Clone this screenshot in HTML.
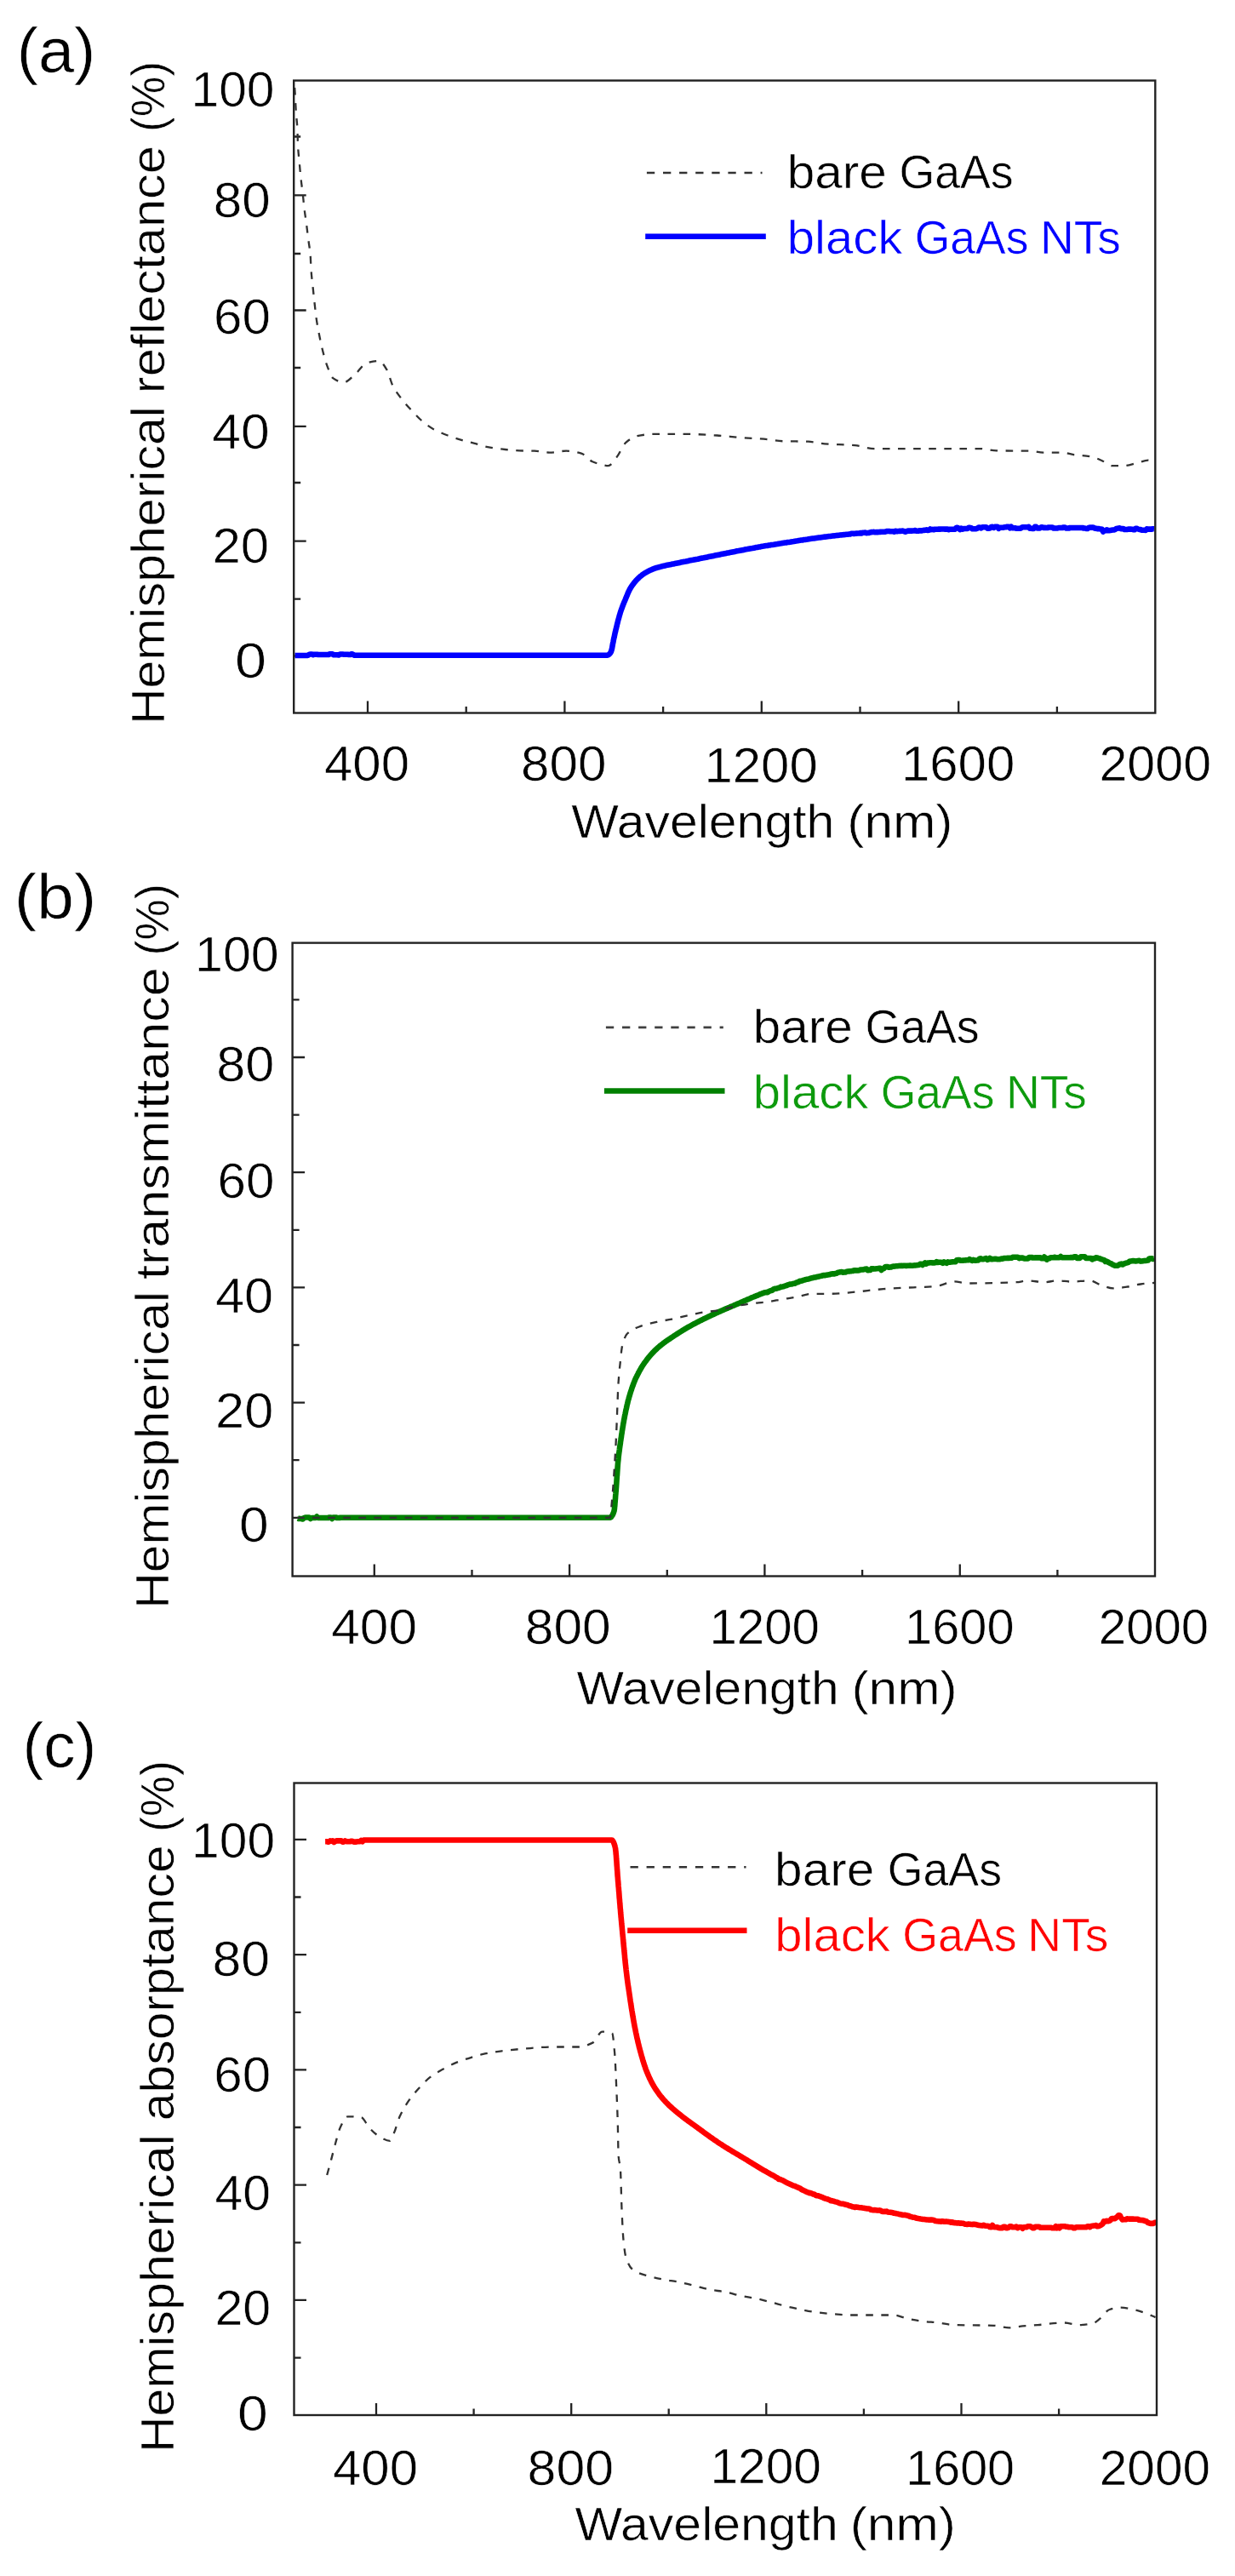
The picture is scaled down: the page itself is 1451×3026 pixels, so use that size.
<!DOCTYPE html><html><head><meta charset="utf-8"><title>Figure</title><style>html,body{margin:0;padding:0;background:#fff}svg{display:block}text{font-family:"Liberation Sans", sans-serif;}</style></head><body>
<svg width="1451" height="3026" viewBox="0 0 1451 3026">
<rect width="1451" height="3026" fill="#fff"/>
<defs><filter id="soft" x="0" y="0" width="100%" height="100%" filterUnits="userSpaceOnUse"><feGaussianBlur stdDeviation="0.6"/></filter></defs><g filter="url(#soft)">
<path d="M345.2,770.5h14.5 M345.2,703.6h8 M345.2,635.6h14.5 M345.2,567.0h8 M345.2,500.8h14.5 M345.2,432.0h8 M345.2,364.5h14.5 M345.2,298.0h8 M345.2,229.3h14.5 M345.2,160.5h8 M432.0,837.5v-14 M547.7,837.5v-7.5 M663.4,837.5v-14 M779.1,837.5v-7.5 M894.8,837.5v-14 M1010.5,837.5v-7.5 M1126.2,837.5v-14 M1241.9,837.5v-7.5" stroke="#222" stroke-width="2.3" fill="none"/>
<path d="M346.2,103.0 C346.3,105.0 346.5,106.9 346.6,109.1 C347.0,115.7 347.4,125.8 347.8,131.8 C348.3,139.8 348.9,141.2 349.4,151.3 C349.6,155.1 349.8,167.1 350.0,170.7 C350.6,181.0 351.1,183.6 351.7,190.0 C352.2,196.0 352.8,202.9 353.3,208.0 C354.2,216.3 355.0,221.2 355.9,229.0 C356.4,233.8 357.0,240.5 357.5,245.0 C358.3,251.4 359.0,255.6 359.8,261.4 C360.7,268.0 361.5,275.6 362.4,282.4 C363.2,288.4 363.9,290.9 364.7,300.0 C365.0,303.6 365.3,313.9 365.6,318.0 C366.3,327.1 366.9,331.1 367.6,337.5 C368.2,343.6 368.9,349.5 369.5,355.3 C370.2,361.4 370.8,368.2 371.5,373.0 C372.6,380.6 373.6,386.1 374.7,391.6 C376.0,398.3 377.3,404.4 378.6,409.7 C380.3,416.7 382.1,423.5 383.8,428.2 C386.4,435.1 388.9,442.6 391.5,444.4 C395.6,447.2 399.7,449.2 403.8,449.2 C408.4,449.2 412.9,443.3 417.5,439.5 C421.8,435.9 426.1,427.9 430.4,426.6 C435.3,425.1 440.1,424.0 445.0,424.0 C448.2,424.0 451.5,429.5 454.7,434.7 C456.9,438.2 459.0,448.2 461.2,452.5 C464.4,459.0 467.7,463.1 470.9,467.4 C475.2,473.1 479.5,477.8 483.8,482.4 C488.1,487.0 492.5,491.7 496.8,495.3 C501.1,498.9 505.5,502.0 509.8,504.4 C515.2,507.3 520.6,509.5 526.0,511.5 C531.9,513.7 537.9,515.7 543.8,517.4 C548.1,518.6 552.4,519.5 556.7,520.6 C562.1,522.0 567.5,524.1 572.9,525.1 C578.8,526.2 584.8,527.0 590.7,527.7 C597.2,528.4 603.7,529.2 610.2,529.4 C616.1,529.6 622.1,529.5 628.0,529.7 C633.9,529.9 639.9,531.6 645.8,531.6 C652.3,531.6 658.7,529.7 665.2,529.7 C671.1,529.7 677.1,531.0 683.0,532.6 C687.3,533.8 691.7,540.4 696.0,542.3 C700.0,544.0 704.1,545.1 708.1,546.0 C710.3,546.5 712.4,547.2 714.6,547.2 C717.8,547.2 721.1,541.4 724.3,537.4 C728.1,532.8 731.8,522.8 735.6,519.6 C739.9,515.9 744.3,513.1 748.6,512.2 C755.1,510.9 761.5,509.9 768.0,509.9 C781.0,509.9 793.9,509.9 806.9,509.9 C818.8,509.9 830.6,510.8 842.5,511.5 C852.2,512.1 862.0,513.4 871.7,514.1 C880.3,514.7 889.0,515.0 897.6,515.7 C905.1,516.3 912.7,518.1 920.2,518.3 C929.9,518.5 939.7,518.4 949.4,518.7 C955.9,518.9 962.3,520.8 968.8,521.3 C980.7,522.2 992.6,522.2 1004.5,523.2 C1012.0,523.8 1019.6,527.1 1027.1,527.1 C1038.3,527.1 1049.5,527.1 1060.7,527.1 C1073.8,527.1 1086.9,527.1 1100.0,527.1 C1117.1,527.1 1134.3,527.1 1151.4,527.1 C1157.9,527.1 1164.3,529.3 1170.8,529.4 C1183.8,529.6 1196.7,529.5 1209.7,529.7 C1215.1,529.8 1220.5,531.6 1225.9,531.6 C1233.5,531.6 1241.0,531.6 1248.6,531.6 C1252.9,531.6 1257.2,533.6 1261.5,534.2 C1268.0,535.1 1274.5,535.1 1281.0,536.2 C1285.3,536.9 1289.6,538.9 1293.9,540.7 C1298.2,542.5 1302.6,547.2 1306.9,547.2 C1311.2,547.2 1315.5,547.2 1319.8,547.2 C1325.2,547.2 1330.6,545.1 1336.0,543.9 C1340.3,542.9 1344.7,540.7 1349.0,540.7 C1351.3,540.7 1353.7,542.4 1356.0,543.3" fill="none" stroke="#303030" stroke-width="2.3" stroke-linejoin="round" stroke-linecap="butt" stroke-dasharray="8.6 9.5"/>
<path d="M346.5,770.0 L348.0,770.0 L349.5,770.0 L351.0,770.0 L352.5,770.0 L354.0,770.0 L355.5,770.0 L357.0,770.0 L358.5,770.0 L360.0,770.0 L361.5,770.0 L362.5,769.4 L363.5,768.7 L365.0,768.5 L366.5,768.5 L368.0,769.2 L369.5,768.7 L371.0,768.7 L372.5,768.7 L374.0,769.0 L375.5,769.0 L377.0,769.0 L378.5,769.0 L380.0,769.0 L381.5,769.0 L383.0,769.0 L384.5,769.0 L386.0,769.0 L387.5,768.2 L389.0,768.2 L390.5,768.2 L392.0,769.2 L393.5,769.2 L395.0,769.2 L396.5,769.2 L398.0,769.5 L399.5,768.5 L401.0,768.5 L402.5,768.5 L404.0,768.7 L405.5,768.7 L407.0,768.7 L408.5,768.7 L410.0,769.0 L411.5,769.0 L413.0,768.2 L414.5,768.7 L415.5,769.2 L416.5,769.7 L418.0,769.7 L419.5,769.7 L421.0,769.7 L422.5,769.7 L424.0,769.7 L425.5,769.7 L427.0,769.7 L428.5,769.7 L430.0,769.7 L431.5,769.7 L433.0,769.7 L434.5,769.7 L436.0,769.7 L437.5,769.7 L439.0,769.7 L440.5,769.7 L442.0,769.7 L443.5,769.7 L445.0,769.7 L446.5,769.7 L448.0,769.7 L449.5,769.7 L451.0,769.7 L452.5,769.7 L454.0,769.7 L455.5,769.7 L457.0,769.7 L458.5,769.7 L460.0,769.7 L461.5,769.7 L463.0,769.7 L464.5,769.7 L466.0,769.7 L467.5,769.7 L469.0,769.7 L470.5,769.7 L472.0,769.7 L473.5,769.7 L475.0,769.7 L476.5,769.7 L478.0,769.7 L479.5,769.7 L481.0,769.7 L482.5,769.7 L484.0,769.7 L485.5,769.7 L487.0,769.7 L488.5,769.7 L490.0,769.7 L491.5,769.7 L493.0,769.7 L494.5,769.7 L496.0,769.7 L497.5,769.7 L499.0,769.7 L500.5,769.7 L502.0,769.7 L503.5,769.7 L505.0,769.7 L506.5,769.7 L508.0,769.7 L509.5,769.7 L511.0,769.7 L512.5,769.7 L514.0,769.7 L515.5,769.7 L517.0,769.7 L518.5,769.7 L520.0,769.7 L521.5,769.7 L523.0,769.7 L524.5,769.7 L526.0,769.7 L527.5,769.7 L529.0,769.7 L530.5,769.7 L532.0,769.7 L533.5,769.7 L535.0,769.7 L536.5,769.7 L538.0,769.7 L539.5,769.7 L541.0,769.7 L542.5,769.7 L544.0,769.7 L545.5,769.7 L547.0,769.7 L548.5,769.7 L550.0,769.7 L551.5,769.7 L553.0,769.7 L554.5,769.7 L556.0,769.7 L557.5,769.7 L559.0,769.7 L560.5,769.7 L562.0,769.7 L563.5,769.7 L565.0,769.7 L566.5,769.7 L568.0,769.7 L569.5,769.7 L571.0,769.7 L572.5,769.7 L574.0,769.7 L575.5,769.7 L577.0,769.7 L578.5,769.7 L580.0,769.7 L581.5,769.7 L583.0,769.7 L584.5,769.7 L586.0,769.7 L587.5,769.7 L589.0,769.7 L590.5,769.7 L592.0,769.7 L593.5,769.7 L595.0,769.7 L596.5,769.7 L598.0,769.7 L599.5,769.7 L601.0,769.7 L602.5,769.7 L604.0,769.7 L605.5,769.7 L607.0,769.7 L608.5,769.7 L610.0,769.7 L611.5,769.7 L613.0,769.7 L614.5,769.7 L616.0,769.7 L617.5,769.7 L619.0,769.7 L620.5,769.7 L622.0,769.7 L623.5,769.7 L625.0,769.7 L626.5,769.7 L628.0,769.7 L629.5,769.7 L631.0,769.7 L632.5,769.7 L634.0,769.7 L635.5,769.7 L637.0,769.7 L638.5,769.7 L640.0,769.7 L641.5,769.7 L643.0,769.7 L644.5,769.7 L646.0,769.7 L647.5,769.7 L649.0,769.7 L650.5,769.7 L652.0,769.7 L653.5,769.7 L655.0,769.7 L656.5,769.7 L658.0,769.7 L659.5,769.7 L661.0,769.7 L662.5,769.7 L664.0,769.7 L665.5,769.7 L667.0,769.7 L668.5,769.7 L670.0,769.7 L671.5,769.7 L673.0,769.7 L674.5,769.7 L676.0,769.7 L677.5,769.7 L679.0,769.7 L680.5,769.7 L682.0,769.7 L683.5,769.7 L685.0,769.7 L686.5,769.7 L688.0,769.7 L689.5,769.7 L691.0,769.7 L692.5,769.7 L694.0,769.7 L695.5,769.7 L697.0,769.7 L698.5,769.7 L700.0,769.7 L701.4,769.7 L702.7,769.7 L704.1,769.7 L705.4,769.7 L706.8,769.7 L708.2,769.7 L709.5,769.7 L710.9,769.7 L712.2,769.7 L713.6,769.7 L714.6,769.4 L715.7,768.6 L716.8,767.3 L717.8,765.8 L718.1,765.1 L718.4,764.1 L718.8,762.8 L719.1,761.3 L719.4,759.7 L719.7,757.9 L720.0,756.1 L720.4,754.4 L720.7,752.7 L721.0,751.2 L721.3,749.7 L721.7,748.2 L722.0,746.7 L722.3,745.2 L722.6,743.7 L723.0,742.2 L723.3,740.8 L723.6,739.4 L724.0,738.0 L724.3,736.6 L724.7,735.1 L725.0,733.6 L725.4,732.1 L725.8,730.7 L726.1,729.2 L726.5,727.8 L726.9,726.4 L727.3,725.1 L727.6,723.7 L728.0,722.4 L728.4,721.2 L728.7,720.0 L729.1,718.8 L729.6,717.3 L730.1,715.9 L730.6,714.5 L731.1,713.2 L731.5,712.0 L732.0,710.7 L732.5,709.5 L733.0,708.3 L733.5,707.1 L734.0,705.9 L734.6,704.5 L735.2,703.0 L735.8,701.5 L736.4,700.1 L737.0,698.7 L737.5,697.3 L738.1,696.0 L738.7,694.7 L739.3,693.5 L739.9,692.3 L740.5,691.3 L741.4,689.8 L742.3,688.4 L743.2,687.1 L744.1,685.9 L745.0,684.7 L745.9,683.6 L746.8,682.5 L747.7,681.5 L748.6,680.6 L749.7,679.5 L750.8,678.5 L751.8,677.5 L752.9,676.6 L754.0,675.8 L755.1,674.9 L756.1,674.2 L757.2,673.5 L758.3,672.8 L759.6,672.1 L760.9,671.4 L762.2,670.7 L763.5,670.1 L764.8,669.5 L766.1,668.9 L767.4,668.4 L768.7,667.9 L770.0,667.4 L771.3,667.0 L772.7,666.6 L774.2,666.2 L775.6,665.8 L777.1,665.4 L778.5,665.1 L779.9,664.7 L781.4,664.4 L782.8,664.1 L784.2,663.8 L785.7,663.5 L787.1,663.2 L788.6,662.9 L790.0,662.6 L791.4,662.4 L792.9,662.1 L794.3,661.8 L795.8,661.5 L797.2,661.2 L798.6,660.9 L800.0,660.6 L801.4,660.3 L802.8,660.0 L804.2,659.7 L805.7,659.5 L807.1,659.2 L808.5,658.9 L809.9,658.6 L811.3,658.3 L812.7,658.0 L814.1,657.8 L815.5,657.5 L816.9,657.2 L818.3,656.9 L819.7,656.7 L821.1,656.4 L822.6,656.1 L824.0,655.8 L825.4,655.5 L826.8,655.3 L828.2,655.0 L829.6,654.7 L831.1,654.4 L832.5,654.1 L834.0,653.8 L835.5,653.5 L836.9,653.2 L838.4,652.9 L839.9,652.6 L841.3,652.3 L842.8,652.0 L844.3,651.7 L845.8,651.4 L847.2,651.1 L848.7,650.8 L850.2,650.5 L851.6,650.2 L853.1,649.9 L854.6,649.6 L856.0,649.4 L857.5,649.1 L859.0,648.8 L860.4,648.5 L861.9,648.2 L863.4,647.9 L864.8,647.6 L866.3,647.3 L867.8,647.1 L869.3,646.8 L870.7,646.5 L872.2,646.2 L873.7,645.9 L875.2,645.6 L876.6,645.3 L878.1,645.1 L879.6,644.8 L881.0,644.5 L882.5,644.2 L884.0,644.0 L885.5,643.7 L886.9,643.4 L888.4,643.1 L889.9,642.9 L891.4,642.6 L892.8,642.4 L894.3,642.1 L895.8,641.8 L897.2,641.6 L898.7,641.3 L900.2,641.1 L901.7,640.9 L903.1,640.6 L904.6,640.4 L906.1,640.1 L907.6,639.9 L909.0,639.7 L910.5,639.4 L912.0,639.2 L913.4,639.0 L914.9,638.7 L916.4,638.5 L917.9,638.3 L919.3,638.0 L920.8,637.8 L922.3,637.6 L923.8,637.4 L925.2,637.1 L926.7,636.9 L928.2,636.7 L929.6,636.4 L931.1,636.2 L932.6,636.0 L934.1,635.7 L935.5,635.5 L937.0,635.3 L938.5,635.0 L940.0,634.8 L941.4,634.6 L942.9,634.4 L944.4,634.1 L945.8,633.9 L947.3,633.7 L948.8,633.5 L950.3,633.2 L951.7,633.0 L953.2,632.8 L954.7,632.6 L956.2,632.4 L957.6,632.2 L959.1,632.0 L960.6,631.8 L962.0,631.6 L963.5,631.4 L965.0,631.2 L966.5,631.0 L967.9,630.8 L969.4,630.6 L970.9,630.5 L972.4,630.3 L973.8,630.1 L975.3,629.9 L976.8,629.7 L978.2,629.5 L979.7,629.4 L981.2,629.2 L982.7,629.0 L984.1,628.9 L985.6,628.7 L987.1,628.5 L988.6,628.4 L990.0,628.2 L991.5,628.1 L993.0,628.0 L994.4,627.8 L995.9,627.7 L997.4,627.5 L998.9,627.4 L1000.3,626.8 L1001.8,626.7 L1003.3,627.0 L1004.8,626.7 L1006.2,626.6 L1007.7,626.5 L1009.2,626.5 L1010.6,626.0 L1012.1,626.5 L1013.6,625.8 L1015.1,625.7 L1016.5,625.6 L1018.0,626.1 L1019.5,626.0 L1021.0,625.9 L1022.4,625.4 L1023.9,625.1 L1025.4,625.0 L1026.8,624.9 L1028.3,625.2 L1029.8,625.1 L1031.3,625.1 L1032.7,625.0 L1034.2,624.9 L1035.7,624.8 L1037.2,624.7 L1038.6,624.7 L1040.1,624.6 L1041.6,624.1 L1043.0,624.0 L1044.5,624.0 L1046.0,624.3 L1047.5,624.2 L1048.9,624.2 L1050.4,624.7 L1051.9,623.7 L1053.4,624.2 L1054.8,624.1 L1056.3,623.9 L1057.8,623.9 L1059.3,623.8 L1060.7,623.6 L1062.2,624.1 L1063.7,624.7 L1065.2,624.1 L1066.7,623.6 L1068.2,623.6 L1069.6,623.6 L1071.1,623.6 L1072.6,623.5 L1074.1,623.5 L1075.6,623.0 L1077.0,623.8 L1078.5,623.8 L1080.0,623.3 L1081.4,623.2 L1082.9,623.5 L1084.3,623.0 L1085.7,622.9 L1087.1,622.8 L1088.6,622.4 L1090.0,622.9 L1091.4,622.7 L1092.9,621.4 L1094.3,622.1 L1095.7,621.9 L1097.1,622.2 L1098.6,621.8 L1100.0,621.7 L1101.5,621.7 L1102.9,621.6 L1104.4,621.6 L1105.9,621.5 L1107.3,621.5 L1108.8,621.5 L1110.3,621.6 L1111.7,621.6 L1113.2,621.6 L1114.7,622.2 L1116.1,621.7 L1117.6,621.7 L1119.1,621.7 L1120.5,621.8 L1122.0,621.7 L1123.5,620.2 L1124.9,619.7 L1126.4,620.7 L1127.9,622.1 L1129.3,620.6 L1130.8,621.6 L1132.3,621.1 L1133.7,621.0 L1135.2,621.0 L1136.7,621.0 L1138.1,619.9 L1139.6,619.9 L1141.1,620.3 L1142.5,621.3 L1144.0,621.2 L1145.5,621.2 L1146.9,621.1 L1148.4,620.6 L1149.8,619.5 L1151.3,619.5 L1152.8,620.4 L1154.2,619.4 L1155.7,619.3 L1157.2,619.2 L1158.6,619.2 L1160.1,620.6 L1161.6,620.6 L1163.0,620.5 L1164.5,619.0 L1166.0,618.9 L1167.4,619.9 L1168.9,618.9 L1170.3,618.8 L1171.8,618.8 L1173.3,620.8 L1174.7,619.7 L1176.2,619.7 L1177.7,619.7 L1179.1,619.7 L1180.6,619.2 L1182.1,619.2 L1183.5,618.7 L1185.0,618.7 L1186.5,620.2 L1188.0,618.7 L1189.4,620.2 L1190.9,620.2 L1192.4,620.2 L1193.8,620.7 L1195.3,620.7 L1196.8,620.7 L1198.2,620.8 L1199.7,620.3 L1201.2,619.3 L1202.7,619.3 L1204.1,619.3 L1205.6,619.3 L1207.1,619.3 L1208.5,618.8 L1210.0,620.8 L1211.5,620.8 L1212.9,620.9 L1214.4,620.9 L1215.9,618.9 L1217.4,618.9 L1218.8,620.4 L1220.3,620.4 L1221.8,620.4 L1223.2,619.4 L1224.7,619.4 L1226.2,619.9 L1227.7,619.9 L1229.1,620.0 L1230.6,620.0 L1232.1,619.5 L1233.5,619.5 L1235.0,619.5 L1236.5,619.5 L1237.9,620.5 L1239.4,620.5 L1240.9,620.5 L1242.4,620.5 L1243.8,620.0 L1245.3,620.0 L1246.8,620.0 L1248.2,620.0 L1249.7,619.5 L1251.2,619.5 L1252.7,620.5 L1254.1,620.5 L1255.6,620.5 L1257.1,620.0 L1258.6,620.0 L1260.0,620.0 L1261.5,620.0 L1263.0,620.0 L1264.4,620.0 L1265.9,620.0 L1267.4,620.0 L1268.9,620.0 L1270.3,620.0 L1271.8,620.0 L1273.3,620.5 L1274.8,620.5 L1276.2,621.0 L1277.7,621.0 L1279.1,620.0 L1280.5,619.6 L1282.0,619.8 L1283.4,619.5 L1284.8,619.8 L1286.2,620.5 L1287.6,620.8 L1289.1,621.1 L1290.5,621.0 L1291.9,621.3 L1293.3,621.5 L1294.7,621.8 L1296.1,624.5 L1297.6,623.2 L1299.0,623.3 L1300.4,622.3 L1301.8,623.3 L1303.2,623.2 L1304.6,623.0 L1305.9,622.8 L1307.3,622.6 L1308.7,622.4 L1310.1,622.1 L1311.5,620.9 L1312.9,620.7 L1314.3,620.5 L1315.6,620.3 L1317.0,621.1 L1318.4,621.0 L1319.8,621.0 L1321.2,622.0 L1322.7,622.0 L1324.1,622.0 L1325.6,621.6 L1327.0,621.6 L1328.5,621.6 L1329.9,621.7 L1331.4,622.2 L1332.8,622.3 L1334.3,620.8 L1335.7,620.9 L1337.2,621.5 L1338.6,622.0 L1340.1,622.1 L1341.5,622.7 L1343.0,622.7 L1344.4,622.8 L1345.9,622.9 L1347.3,621.4 L1348.8,621.5 L1350.2,621.6 L1351.7,621.6 L1353.1,621.7 L1354.6,621.2 L1356.0,621.3" fill="none" stroke="#0000ff" stroke-width="6.6" stroke-linejoin="round" stroke-linecap="butt"/>
<rect x="345.2" y="94.6" width="1012.0999999999999" height="742.9" fill="none" stroke="#222" stroke-width="2.4"/>
<path d="M759.9,203H895.5" stroke="#303030" stroke-width="2.4" stroke-dasharray="9.3 9.8" fill="none"/>
<path d="M758.2,277.8H899.8" stroke="#0000ff" stroke-width="6.6" fill="none"/>
<path d="M343.6,1782.8h14.5 M343.6,1715.2h8 M343.6,1647.6h14.5 M343.6,1580.0h8 M343.6,1512.4h14.5 M343.6,1444.8h8 M343.6,1377.2h14.5 M343.6,1309.6h8 M343.6,1242.0h14.5 M343.6,1174.4h8 M439.8,1851.5v-14 M554.5,1851.5v-7.5 M669.1,1851.5v-14 M783.8,1851.5v-7.5 M898.4,1851.5v-14 M1013.1,1851.5v-7.5 M1127.8,1851.5v-14 M1242.4,1851.5v-7.5" stroke="#222" stroke-width="2.3" fill="none"/>
<path d="M349.8,1783.5 L351.3,1784.0 L352.8,1784.0 L354.3,1784.0 L355.8,1784.5 L357.3,1783.0 L358.7,1782.5 L360.2,1782.5 L361.7,1782.5 L363.2,1782.5 L364.7,1784.0 L366.2,1783.0 L367.7,1783.0 L369.2,1783.0 L370.7,1783.0 L372.2,1781.5 L373.7,1783.0 L375.1,1783.0 L376.6,1783.0 L378.1,1783.0 L379.6,1783.0 L381.1,1783.0 L382.6,1783.0 L384.1,1783.0 L385.6,1783.0 L387.1,1782.5 L388.6,1782.5 L390.1,1784.0 L391.5,1782.5 L393.0,1782.5 L394.5,1782.5 L396.0,1783.0 L397.5,1783.0 L399.0,1783.0 L400.0,1782.7 L401.0,1782.8 L402.5,1782.8 L404.0,1782.8 L405.5,1782.8 L407.0,1782.8 L408.5,1782.8 L410.0,1782.8 L411.5,1782.8 L413.0,1782.8 L414.5,1782.8 L416.0,1782.8 L417.5,1782.8 L419.0,1782.8 L420.5,1782.8 L422.0,1782.8 L423.5,1782.8 L425.0,1782.8 L426.5,1782.8 L428.0,1782.8 L429.5,1782.8 L431.0,1782.8 L432.5,1782.8 L434.0,1782.8 L435.5,1782.8 L437.0,1782.8 L438.5,1782.8 L440.0,1782.8 L441.5,1782.8 L443.0,1782.8 L444.5,1782.8 L446.0,1782.8 L447.5,1782.8 L449.0,1782.8 L450.5,1782.8 L452.0,1782.8 L453.5,1782.8 L455.0,1782.8 L456.5,1782.8 L458.0,1782.8 L459.5,1782.8 L461.0,1782.8 L462.5,1782.8 L464.0,1782.8 L465.5,1782.8 L467.0,1782.8 L468.5,1782.8 L470.0,1782.8 L471.5,1782.8 L473.0,1782.8 L474.5,1782.8 L476.0,1782.8 L477.5,1782.8 L479.0,1782.8 L480.5,1782.8 L482.0,1782.8 L483.5,1782.8 L485.0,1782.8 L486.5,1782.8 L488.0,1782.8 L489.5,1782.8 L491.0,1782.8 L492.5,1782.8 L494.0,1782.8 L495.5,1782.8 L497.0,1782.8 L498.5,1782.8 L500.0,1782.8 L501.5,1782.8 L503.0,1782.8 L504.5,1782.8 L506.0,1782.8 L507.5,1782.8 L509.0,1782.8 L510.5,1782.8 L512.0,1782.8 L513.5,1782.8 L515.0,1782.8 L516.5,1782.8 L518.0,1782.8 L519.5,1782.8 L521.0,1782.8 L522.5,1782.8 L524.0,1782.8 L525.5,1782.8 L527.0,1782.8 L528.5,1782.8 L530.0,1782.8 L531.5,1782.8 L533.0,1782.8 L534.5,1782.8 L536.0,1782.8 L537.5,1782.8 L539.0,1782.8 L540.5,1782.8 L542.0,1782.8 L543.5,1782.8 L545.0,1782.8 L546.5,1782.8 L548.0,1782.8 L549.5,1782.8 L551.0,1782.8 L552.5,1782.8 L554.0,1782.8 L555.5,1782.8 L557.0,1782.8 L558.5,1782.8 L560.0,1782.8 L561.5,1782.8 L563.0,1782.8 L564.5,1782.8 L566.0,1782.8 L567.5,1782.8 L569.0,1782.8 L570.5,1782.8 L572.0,1782.8 L573.5,1782.8 L575.0,1782.8 L576.5,1782.8 L578.0,1782.8 L579.5,1782.8 L581.0,1782.8 L582.5,1782.8 L584.0,1782.8 L585.5,1782.8 L587.0,1782.8 L588.5,1782.8 L590.0,1782.8 L591.5,1782.8 L593.0,1782.8 L594.5,1782.8 L596.0,1782.8 L597.5,1782.8 L599.0,1782.8 L600.5,1782.8 L602.0,1782.8 L603.5,1782.8 L605.0,1782.8 L606.5,1782.8 L608.0,1782.8 L609.5,1782.8 L611.0,1782.8 L612.5,1782.8 L614.0,1782.8 L615.5,1782.8 L617.0,1782.8 L618.5,1782.8 L620.0,1782.8 L621.5,1782.8 L623.0,1782.8 L624.5,1782.8 L626.0,1782.8 L627.5,1782.8 L629.0,1782.8 L630.5,1782.8 L632.0,1782.8 L633.5,1782.8 L635.0,1782.8 L636.5,1782.8 L638.0,1782.8 L639.5,1782.8 L641.0,1782.8 L642.5,1782.8 L644.0,1782.8 L645.5,1782.8 L647.0,1782.8 L648.5,1782.8 L650.0,1782.8 L651.5,1782.8 L653.0,1782.8 L654.4,1782.8 L655.9,1782.8 L657.4,1782.8 L658.9,1782.8 L660.3,1782.8 L661.8,1782.8 L663.3,1782.8 L664.8,1782.8 L666.2,1782.8 L667.7,1782.8 L669.2,1782.8 L670.7,1782.8 L672.1,1782.8 L673.6,1782.8 L675.1,1782.8 L676.6,1782.8 L678.0,1782.8 L679.5,1782.8 L681.0,1782.8 L682.5,1782.8 L683.9,1782.8 L685.4,1782.8 L686.9,1782.8 L688.4,1782.8 L689.8,1782.8 L691.3,1782.8 L692.8,1782.8 L694.3,1782.8 L695.7,1782.8 L697.2,1782.8 L698.7,1782.8 L700.2,1782.8 L701.6,1782.8 L703.1,1782.8 L704.6,1782.8 L706.1,1782.8 L707.5,1782.8 L709.0,1782.8 L710.5,1782.8 L712.0,1782.8 L713.4,1782.8 L714.9,1782.8 L716.4,1782.8 L717.2,1782.6 L718.0,1782.0 L718.8,1780.9 L719.7,1779.6 L720.5,1777.8 L721.3,1775.7 L721.4,1775.2 L721.6,1774.5 L721.7,1773.7 L721.9,1772.6 L722.0,1771.5 L722.1,1770.2 L722.3,1768.8 L722.4,1767.2 L722.5,1765.6 L722.7,1763.9 L722.8,1762.2 L723.0,1760.4 L723.1,1758.6 L723.2,1756.8 L723.4,1755.0 L723.5,1753.2 L723.7,1751.5 L723.8,1749.8 L723.9,1748.5 L724.0,1747.2 L724.1,1745.7 L724.2,1744.3 L724.3,1742.7 L724.4,1741.2 L724.5,1739.6 L724.6,1738.0 L724.7,1736.4 L724.8,1734.7 L725.0,1733.1 L725.1,1731.5 L725.2,1729.9 L725.3,1728.3 L725.4,1726.7 L725.5,1725.2 L725.6,1723.8 L725.7,1722.3 L725.8,1721.0 L725.9,1719.7 L726.0,1718.5 L726.1,1717.4 L726.3,1715.6 L726.5,1713.8 L726.6,1712.1 L726.8,1710.5 L727.0,1708.9 L727.2,1707.4 L727.4,1705.9 L727.6,1704.5 L727.8,1703.1 L727.9,1701.7 L728.1,1700.4 L728.3,1699.1 L728.5,1697.8 L728.7,1696.5 L728.9,1695.3 L729.0,1694.0 L729.2,1692.8 L729.4,1691.5 L729.6,1689.9 L729.9,1688.3 L730.1,1686.7 L730.3,1685.1 L730.6,1683.6 L730.8,1682.1 L731.0,1680.6 L731.3,1679.1 L731.5,1677.6 L731.7,1676.2 L732.0,1674.8 L732.2,1673.4 L732.4,1672.0 L732.7,1670.7 L732.9,1669.4 L733.1,1668.1 L733.4,1666.8 L733.6,1665.6 L733.9,1663.9 L734.2,1662.3 L734.6,1660.7 L734.9,1659.1 L735.2,1657.5 L735.5,1656.0 L735.9,1654.5 L736.2,1653.0 L736.5,1651.6 L736.8,1650.1 L737.2,1648.8 L737.5,1647.4 L737.8,1646.1 L738.1,1644.9 L738.5,1643.6 L738.8,1642.4 L739.1,1641.3 L739.6,1639.7 L740.1,1638.1 L740.5,1636.5 L741.0,1635.0 L741.5,1633.5 L742.0,1632.1 L742.4,1630.7 L742.9,1629.3 L743.4,1628.0 L743.9,1626.7 L744.3,1625.4 L744.8,1624.2 L745.3,1623.0 L745.8,1621.8 L746.2,1620.7 L746.7,1619.6 L747.2,1618.6 L748.0,1617.0 L748.7,1615.5 L749.5,1614.0 L750.2,1612.5 L751.0,1611.1 L751.7,1609.7 L752.5,1608.4 L753.2,1607.1 L754.0,1605.9 L754.7,1604.7 L755.5,1603.5 L756.2,1602.4 L757.0,1601.3 L757.7,1600.2 L758.5,1599.2 L759.5,1597.9 L760.4,1596.6 L761.4,1595.4 L762.4,1594.2 L763.4,1593.0 L764.3,1591.9 L765.3,1590.8 L766.3,1589.7 L767.3,1588.7 L768.2,1587.7 L769.2,1586.7 L770.2,1585.7 L771.2,1584.8 L772.1,1583.9 L773.1,1583.0 L774.3,1582.0 L775.4,1581.0 L776.6,1580.1 L777.7,1579.2 L778.9,1578.3 L780.0,1577.4 L781.2,1576.6 L782.4,1575.7 L783.5,1574.9 L784.7,1574.1 L785.8,1573.3 L787.0,1572.6 L788.1,1571.8 L789.3,1571.0 L790.6,1570.2 L791.8,1569.3 L793.1,1568.5 L794.3,1567.7 L795.6,1566.9 L796.8,1566.1 L798.1,1565.3 L799.3,1564.5 L800.6,1563.7 L801.9,1562.9 L803.1,1562.2 L804.4,1561.4 L805.6,1560.7 L806.9,1559.9 L808.1,1559.2 L809.4,1558.5 L810.6,1557.8 L811.9,1557.1 L813.2,1556.4 L814.5,1555.7 L815.8,1555.0 L817.1,1554.3 L818.4,1553.6 L819.7,1552.9 L821.0,1552.3 L822.3,1551.6 L823.6,1551.0 L824.9,1550.3 L826.2,1549.7 L827.5,1549.0 L828.8,1548.4 L830.1,1547.8 L831.4,1547.2 L832.7,1546.5 L834.0,1545.9 L835.3,1545.3 L836.6,1544.7 L837.9,1544.1 L839.3,1543.5 L840.6,1542.8 L842.0,1542.2 L843.4,1541.6 L844.7,1541.0 L846.1,1540.4 L847.4,1539.8 L848.8,1539.2 L850.2,1538.6 L851.5,1538.0 L852.9,1537.4 L854.3,1536.9 L855.6,1536.3 L857.0,1535.7 L858.3,1535.1 L859.7,1534.5 L861.1,1534.0 L862.4,1533.4 L863.8,1532.8 L865.1,1532.2 L866.5,1531.6 L867.8,1531.1 L869.2,1530.5 L870.5,1529.9 L871.9,1529.3 L873.2,1528.7 L874.6,1528.1 L876.0,1527.5 L877.3,1526.9 L878.6,1526.3 L880.0,1525.8 L881.4,1525.2 L882.7,1524.6 L884.0,1524.0 L885.4,1523.5 L886.8,1522.9 L888.1,1522.4 L889.5,1521.8 L890.8,1521.3 L892.2,1520.7 L893.5,1520.2 L894.9,1519.7 L896.2,1519.2 L897.6,1518.7 L899.0,1518.2 L900.4,1518.1 L901.8,1518.2 L903.2,1517.1 L904.6,1516.4 L906.0,1516.1 L907.4,1515.6 L908.8,1514.3 L910.2,1513.9 L911.6,1513.8 L913.1,1513.3 L914.5,1512.9 L915.9,1512.6 L917.3,1511.6 L918.7,1511.7 L920.1,1511.3 L921.5,1510.8 L922.9,1510.4 L924.3,1510.0 L925.7,1509.3 L927.1,1508.9 L928.5,1508.5 L929.9,1508.5 L931.3,1508.1 L932.7,1507.7 L934.1,1507.6 L935.5,1506.6 L937.0,1506.2 L938.4,1505.8 L939.8,1504.8 L941.2,1504.8 L942.6,1504.4 L944.0,1503.8 L945.4,1503.4 L946.8,1503.1 L948.2,1502.7 L949.6,1502.5 L951.0,1502.1 L952.4,1501.6 L953.9,1501.2 L955.3,1500.9 L956.7,1500.6 L958.1,1500.4 L959.5,1500.1 L960.9,1499.8 L962.4,1499.5 L963.8,1499.0 L965.3,1498.7 L966.8,1498.3 L968.3,1498.0 L969.7,1498.1 L971.2,1497.8 L972.7,1497.5 L974.2,1497.3 L975.6,1496.8 L977.1,1496.5 L978.6,1496.2 L980.0,1496.4 L981.5,1496.1 L983.0,1495.8 L984.5,1494.8 L985.9,1494.6 L987.4,1494.3 L988.9,1494.1 L990.4,1494.7 L991.8,1494.5 L993.3,1494.4 L994.8,1493.7 L996.2,1493.5 L997.7,1493.4 L999.1,1493.2 L1000.6,1493.1 L1002.1,1492.9 L1003.5,1492.3 L1005.0,1492.2 L1006.4,1492.5 L1007.9,1492.4 L1009.4,1492.2 L1010.8,1491.6 L1012.3,1491.5 L1013.7,1491.4 L1015.2,1491.2 L1016.7,1490.7 L1018.1,1490.5 L1019.6,1492.2 L1021.0,1492.0 L1022.5,1491.9 L1023.9,1490.4 L1025.4,1490.3 L1026.8,1490.6 L1028.3,1490.4 L1029.7,1490.2 L1031.2,1490.1 L1032.6,1489.9 L1034.1,1489.8 L1035.5,1491.9 L1037.0,1490.4 L1038.4,1490.2 L1039.9,1488.3 L1041.3,1488.1 L1042.8,1488.0 L1044.2,1488.7 L1045.7,1488.6 L1047.1,1488.4 L1048.6,1487.8 L1050.0,1487.6 L1051.5,1487.5 L1053.0,1487.3 L1054.4,1487.2 L1055.9,1487.0 L1057.4,1486.9 L1058.9,1486.7 L1060.3,1487.0 L1061.8,1486.8 L1063.3,1486.7 L1064.8,1487.0 L1066.2,1486.8 L1067.7,1486.7 L1069.2,1486.5 L1070.7,1486.8 L1072.1,1486.7 L1073.6,1486.5 L1075.1,1486.4 L1076.6,1486.2 L1078.0,1486.1 L1079.5,1485.9 L1081.0,1484.9 L1082.5,1484.8 L1084.0,1486.0 L1085.5,1484.5 L1086.9,1483.4 L1088.4,1484.7 L1089.9,1483.6 L1091.4,1483.5 L1092.9,1483.3 L1094.4,1483.2 L1095.9,1483.5 L1097.4,1483.4 L1098.8,1483.2 L1100.3,1482.2 L1101.8,1483.0 L1103.3,1482.8 L1104.8,1482.7 L1106.3,1483.0 L1107.8,1483.8 L1109.2,1482.3 L1110.7,1483.1 L1112.2,1483.8 L1113.7,1482.4 L1115.2,1482.7 L1116.7,1482.6 L1118.2,1482.4 L1119.6,1482.3 L1121.1,1482.2 L1122.6,1482.1 L1124.1,1480.2 L1125.6,1480.1 L1127.1,1480.0 L1128.6,1480.8 L1130.1,1480.7 L1131.5,1480.6 L1133.0,1480.5 L1134.5,1480.4 L1136.0,1480.3 L1137.5,1480.2 L1139.0,1479.2 L1140.5,1480.0 L1142.0,1480.8 L1143.5,1479.9 L1145.0,1480.7 L1146.5,1480.6 L1148.0,1480.5 L1149.5,1480.4 L1150.9,1478.5 L1152.4,1478.4 L1153.9,1479.3 L1155.4,1479.2 L1156.9,1478.6 L1158.4,1478.1 L1159.9,1479.8 L1161.4,1479.3 L1162.9,1477.9 L1164.4,1479.2 L1165.9,1479.1 L1167.4,1479.0 L1168.9,1478.9 L1170.4,1478.9 L1171.9,1479.3 L1173.4,1479.2 L1174.9,1479.1 L1176.4,1478.6 L1177.9,1478.6 L1179.4,1478.1 L1180.8,1478.0 L1182.3,1478.0 L1183.8,1477.9 L1185.3,1477.9 L1186.8,1477.8 L1188.3,1477.8 L1189.8,1476.9 L1191.3,1476.8 L1192.8,1476.8 L1194.3,1476.8 L1195.8,1476.8 L1197.3,1478.1 L1198.7,1477.6 L1200.2,1477.6 L1201.7,1477.6 L1203.2,1478.5 L1204.7,1478.5 L1206.2,1478.5 L1207.6,1478.4 L1209.1,1477.1 L1210.6,1477.1 L1212.1,1477.0 L1213.6,1477.5 L1215.1,1477.5 L1216.5,1477.4 L1218.0,1477.4 L1219.5,1477.4 L1221.0,1477.4 L1222.5,1477.4 L1224.0,1478.3 L1225.4,1478.3 L1226.9,1476.5 L1228.4,1477.8 L1229.9,1479.6 L1231.4,1478.2 L1232.9,1478.2 L1234.3,1477.3 L1235.8,1477.3 L1237.3,1477.3 L1238.8,1476.8 L1240.3,1477.2 L1241.8,1477.2 L1243.2,1477.2 L1244.7,1477.2 L1246.2,1475.9 L1247.7,1477.2 L1249.2,1477.2 L1250.7,1477.2 L1252.1,1477.2 L1253.6,1477.2 L1255.1,1477.2 L1256.6,1477.2 L1258.1,1477.1 L1259.6,1477.1 L1261.0,1477.1 L1262.5,1476.2 L1264.0,1476.2 L1265.5,1478.0 L1267.0,1478.0 L1268.5,1478.0 L1269.9,1476.2 L1271.4,1476.2 L1272.9,1476.2 L1274.4,1476.2 L1275.9,1478.0 L1277.4,1478.0 L1278.8,1478.0 L1280.3,1478.0 L1281.8,1478.0 L1283.2,1479.4 L1284.7,1478.2 L1286.1,1478.4 L1287.5,1477.3 L1289.0,1477.5 L1290.4,1477.9 L1291.8,1478.2 L1293.3,1479.0 L1294.7,1479.4 L1296.0,1479.8 L1297.4,1480.4 L1298.8,1482.0 L1300.1,1481.5 L1301.5,1482.3 L1302.8,1483.2 L1304.2,1484.0 L1305.5,1484.3 L1306.9,1485.4 L1308.2,1485.9 L1309.6,1486.7 L1310.9,1486.8 L1312.2,1486.7 L1313.6,1486.6 L1315.0,1485.4 L1316.3,1485.0 L1317.7,1484.6 L1319.0,1485.5 L1320.3,1484.6 L1321.7,1484.1 L1323.0,1483.7 L1324.4,1483.3 L1325.8,1482.9 L1327.1,1481.7 L1328.5,1481.4 L1330.0,1481.2 L1331.4,1481.0 L1332.9,1481.2 L1334.3,1481.4 L1335.8,1481.2 L1337.2,1481.0 L1338.7,1480.8 L1340.1,1481.6 L1341.5,1481.4 L1343.0,1481.2 L1344.4,1481.0 L1345.9,1480.9 L1347.3,1480.7 L1348.8,1480.5 L1350.2,1478.5 L1351.7,1478.4 L1353.1,1478.2 L1354.6,1478.9 L1356.0,1478.3" fill="none" stroke="#008000" stroke-width="6.6" stroke-linejoin="round" stroke-linecap="butt"/>
<path d="M349.0,1782.8 C449.3,1782.8 549.7,1782.8 650.0,1782.8 C672.1,1782.8 694.3,1782.8 716.4,1782.8 C717.5,1782.8 718.5,1767.6 719.6,1756.3 C720.4,1748.2 721.1,1735.8 721.9,1723.9 C722.5,1714.1 723.2,1704.5 723.8,1691.5 C724.2,1682.6 724.7,1669.9 725.1,1659.1 C725.5,1648.3 726.0,1633.7 726.4,1626.7 C727.2,1614.4 727.9,1608.2 728.7,1600.8 C729.5,1593.4 730.2,1584.6 731.0,1581.4 C732.9,1573.3 734.9,1568.8 736.8,1566.8 C741.9,1561.6 746.9,1560.0 752.0,1558.1 C758.5,1555.7 765.0,1554.3 771.5,1552.9 C777.4,1551.6 783.4,1550.8 789.3,1549.6 C795.8,1548.3 802.2,1546.5 808.7,1545.1 C814.6,1543.8 820.6,1542.4 826.5,1541.5 C832.4,1540.6 838.4,1540.3 844.3,1539.3 C850.8,1538.2 857.3,1535.7 863.8,1534.4 C870.3,1533.1 876.7,1532.0 883.2,1531.2 C888.6,1530.5 894.0,1530.3 899.4,1529.6 C905.9,1528.8 912.3,1527.4 918.8,1526.3 C924.2,1525.4 929.6,1524.7 935.0,1523.7 C941.5,1522.5 948.0,1519.8 954.5,1519.8 C961.0,1519.8 967.4,1519.8 973.9,1519.8 C985.8,1519.8 997.6,1518.3 1009.5,1517.2 C1016.0,1516.6 1022.5,1515.6 1029.0,1515.0 C1035.5,1514.4 1042.1,1513.8 1048.6,1513.4 C1065.9,1512.3 1083.1,1512.4 1100.4,1510.8 C1107.4,1510.1 1114.5,1505.3 1121.5,1505.3 C1126.3,1505.3 1131.2,1507.5 1136.0,1507.5 C1155.4,1507.5 1174.9,1507.1 1194.3,1506.2 C1198.6,1506.0 1203.0,1504.3 1207.3,1504.3 C1213.8,1504.3 1220.2,1506.2 1226.7,1506.2 C1232.1,1506.2 1237.5,1504.3 1242.9,1504.3 C1248.3,1504.3 1253.7,1505.6 1259.1,1505.6 C1266.1,1505.6 1273.2,1504.3 1280.2,1504.3 C1285.0,1504.3 1289.9,1508.6 1294.7,1510.1 C1299.0,1511.4 1303.4,1513.4 1307.7,1513.4 C1313.1,1513.4 1318.5,1512.4 1323.9,1511.7 C1329.3,1511.0 1334.7,1509.2 1340.1,1508.5 C1345.4,1507.8 1350.7,1507.4 1356.0,1506.9" fill="none" stroke="#303030" stroke-width="2.3" stroke-linejoin="round" stroke-linecap="butt" stroke-dasharray="8.6 9.5"/>
<rect x="343.6" y="1107.6" width="1013.4" height="743.9000000000001" fill="none" stroke="#222" stroke-width="2.4"/>
<path d="M711.9,1206.9H849.8" stroke="#404040" stroke-width="2.6" stroke-dasharray="9.3 9.8" fill="none"/>
<path d="M709.9,1281.5H851.5" stroke="#008000" stroke-width="6.6" fill="none"/>
<path d="M345.5,2769.6h8 M345.5,2701.9h14.5 M345.5,2634.3h8 M345.5,2566.7h14.5 M345.5,2499.0h8 M345.5,2431.4h14.5 M345.5,2363.8h8 M345.5,2296.2h14.5 M345.5,2228.5h8 M345.5,2160.9h14.5 M442.0,2837v-14 M556.6,2837v-7.5 M671.2,2837v-14 M785.7,2837v-7.5 M900.3,2837v-14 M1014.9,2837v-7.5 M1129.5,2837v-14 M1244.1,2837v-7.5" stroke="#222" stroke-width="2.3" fill="none"/>
<path d="M384.2,2555.0 C385.8,2549.1 387.4,2543.4 389.0,2537.4 C390.7,2531.1 392.3,2524.1 394.0,2518.2 C395.9,2511.3 397.9,2503.0 399.8,2499.0 C402.7,2493.0 405.6,2486.3 408.5,2486.3 C413.7,2486.3 419.0,2486.5 424.2,2487.1 C427.4,2487.4 430.7,2496.1 433.9,2499.5 C437.1,2502.9 440.4,2506.3 443.6,2508.3 C448.5,2511.3 453.3,2514.8 458.2,2514.8 C459.8,2514.8 461.5,2508.9 463.1,2505.1 C465.3,2500.1 467.4,2491.1 469.6,2486.3 C473.0,2478.7 476.5,2473.2 479.9,2468.2 C484.0,2462.2 488.1,2457.6 492.2,2453.1 C496.5,2448.3 500.9,2443.4 505.2,2440.1 C510.1,2436.3 514.9,2433.7 519.8,2431.0 C525.2,2428.0 530.6,2425.1 536.0,2422.9 C541.9,2420.5 547.9,2418.6 553.8,2416.8 C558.1,2415.5 562.4,2414.1 566.7,2413.2 C574.3,2411.6 581.8,2410.3 589.4,2409.3 C598.0,2408.2 606.7,2407.4 615.3,2406.7 C626.1,2405.8 636.9,2404.5 647.7,2404.5 C658.5,2404.5 669.3,2404.5 680.1,2404.5 C685.5,2404.5 690.9,2402.3 696.3,2399.6 C700.1,2397.7 703.8,2386.6 707.6,2386.6 C711.5,2386.6 715.3,2386.9 719.2,2388.3 C720.2,2388.6 721.1,2399.9 722.1,2410.9 C722.9,2419.6 723.6,2438.3 724.4,2456.3 C724.9,2468.0 725.4,2480.1 725.9,2498.4 C726.1,2506.9 726.4,2528.9 726.6,2532.0 C727.4,2542.3 728.1,2538.5 728.9,2547.2 C729.4,2553.2 730.0,2583.6 730.5,2595.7 C731.2,2610.8 731.8,2624.5 732.5,2631.4 C733.5,2641.4 734.4,2648.6 735.4,2651.6 C738.2,2660.3 740.9,2664.4 743.7,2666.4 C749.6,2670.6 755.6,2671.7 761.5,2673.5 C767.5,2675.3 773.4,2676.6 779.4,2677.7 C785.3,2678.8 791.3,2679.5 797.2,2680.6 C803.1,2681.7 809.1,2683.4 815.0,2684.8 C821.5,2686.4 827.9,2688.5 834.4,2689.7 C840.3,2690.8 846.3,2691.2 852.2,2692.3 C858.1,2693.4 864.1,2695.6 870.0,2696.8 C876.0,2698.0 881.9,2698.8 887.9,2700.0 C893.8,2701.2 899.8,2702.8 905.7,2704.3 C911.6,2705.8 917.6,2707.7 923.5,2709.1 C929.4,2710.5 935.4,2711.8 941.3,2713.0 C947.2,2714.2 953.2,2715.4 959.1,2716.2 C965.6,2717.1 972.0,2717.7 978.5,2718.2 C985.0,2718.7 991.5,2719.5 998.0,2719.5 C1015.3,2719.5 1032.5,2719.5 1049.8,2719.5 C1055.4,2719.5 1061.0,2722.6 1066.6,2723.7 C1072.8,2725.0 1079.0,2726.2 1085.2,2726.9 C1091.1,2727.6 1096.9,2727.8 1102.8,2728.5 C1108.7,2729.2 1114.7,2730.9 1120.6,2731.1 C1136.3,2731.6 1151.9,2731.3 1167.6,2731.8 C1173.5,2732.0 1179.5,2734.4 1185.4,2734.4 C1190.8,2734.4 1196.2,2732.9 1201.6,2732.4 C1207.5,2731.9 1213.5,2731.6 1219.4,2731.1 C1229.7,2730.3 1239.9,2728.5 1250.2,2728.5 C1256.1,2728.5 1262.1,2731.1 1268.0,2731.1 C1273.4,2731.1 1278.8,2730.4 1284.2,2729.2 C1286.9,2728.6 1289.6,2725.8 1292.3,2723.7 C1296.1,2720.7 1299.8,2714.1 1303.6,2713.0 C1307.9,2711.7 1312.3,2710.7 1316.6,2710.7 C1322.0,2710.7 1327.4,2712.2 1332.8,2713.3 C1337.1,2714.2 1341.4,2715.7 1345.7,2717.2 C1349.6,2718.6 1353.6,2720.5 1357.5,2722.1" fill="none" stroke="#303030" stroke-width="2.3" stroke-linejoin="round" stroke-linecap="butt" stroke-dasharray="8.6 9.5"/>
<path d="M382.1,2163.2 L383.6,2163.2 L385.0,2163.6 L386.5,2163.6 L387.9,2162.4 L389.4,2162.8 L390.8,2162.4 L392.3,2164.0 L393.8,2163.2 L395.2,2162.4 L396.7,2162.4 L398.1,2162.4 L399.6,2162.4 L401.0,2162.4 L402.5,2163.6 L404.0,2163.6 L405.4,2162.4 L406.9,2163.2 L408.3,2163.2 L409.8,2163.2 L411.2,2163.2 L412.7,2162.8 L414.1,2162.8 L415.6,2163.6 L417.1,2163.6 L418.5,2163.6 L420.0,2163.2 L421.4,2163.2 L422.9,2163.2 L424.3,2162.0 L425.8,2163.2 L426.6,2162.3 L427.4,2161.5 L428.9,2161.5 L430.4,2161.5 L431.9,2161.5 L433.4,2161.5 L434.9,2161.5 L436.4,2161.5 L437.9,2161.5 L439.4,2161.5 L440.9,2161.5 L442.4,2161.5 L443.9,2161.5 L445.4,2161.5 L446.9,2161.5 L448.4,2161.5 L449.9,2161.5 L451.4,2161.5 L452.9,2161.5 L454.4,2161.5 L455.9,2161.5 L457.4,2161.5 L458.9,2161.5 L460.4,2161.5 L461.8,2161.5 L463.3,2161.5 L464.8,2161.5 L466.3,2161.5 L467.8,2161.5 L469.3,2161.5 L470.8,2161.5 L472.3,2161.5 L473.8,2161.5 L475.3,2161.5 L476.8,2161.5 L478.3,2161.5 L479.8,2161.5 L481.3,2161.5 L482.8,2161.5 L484.3,2161.5 L485.8,2161.5 L487.3,2161.5 L488.8,2161.5 L490.3,2161.5 L491.8,2161.5 L493.3,2161.5 L494.8,2161.5 L496.3,2161.5 L497.8,2161.5 L499.3,2161.5 L500.8,2161.5 L502.3,2161.5 L503.8,2161.5 L505.3,2161.5 L506.8,2161.5 L508.3,2161.5 L509.8,2161.5 L511.3,2161.5 L512.8,2161.5 L514.3,2161.5 L515.8,2161.5 L517.3,2161.5 L518.8,2161.5 L520.3,2161.5 L521.8,2161.5 L523.3,2161.5 L524.8,2161.5 L526.3,2161.5 L527.8,2161.5 L529.3,2161.5 L530.7,2161.5 L532.2,2161.5 L533.7,2161.5 L535.2,2161.5 L536.7,2161.5 L538.2,2161.5 L539.7,2161.5 L541.2,2161.5 L542.7,2161.5 L544.2,2161.5 L545.7,2161.5 L547.2,2161.5 L548.7,2161.5 L550.2,2161.5 L551.7,2161.5 L553.2,2161.5 L554.7,2161.5 L556.2,2161.5 L557.7,2161.5 L559.2,2161.5 L560.7,2161.5 L562.2,2161.5 L563.7,2161.5 L565.2,2161.5 L566.7,2161.5 L568.2,2161.5 L569.7,2161.5 L571.2,2161.5 L572.7,2161.5 L574.2,2161.5 L575.7,2161.5 L577.2,2161.5 L578.7,2161.5 L580.2,2161.5 L581.7,2161.5 L583.2,2161.5 L584.7,2161.5 L586.2,2161.5 L587.7,2161.5 L589.2,2161.5 L590.7,2161.5 L592.2,2161.5 L593.7,2161.5 L595.2,2161.5 L596.7,2161.5 L598.1,2161.5 L599.6,2161.5 L601.1,2161.5 L602.6,2161.5 L604.1,2161.5 L605.6,2161.5 L607.1,2161.5 L608.6,2161.5 L610.1,2161.5 L611.6,2161.5 L613.1,2161.5 L614.6,2161.5 L616.1,2161.5 L617.6,2161.5 L619.1,2161.5 L620.6,2161.5 L622.1,2161.5 L623.6,2161.5 L625.1,2161.5 L626.6,2161.5 L628.1,2161.5 L629.6,2161.5 L631.1,2161.5 L632.6,2161.5 L634.1,2161.5 L635.6,2161.5 L637.1,2161.5 L638.6,2161.5 L640.1,2161.5 L641.6,2161.5 L643.1,2161.5 L644.6,2161.5 L646.1,2161.5 L647.6,2161.5 L649.1,2161.5 L650.6,2161.5 L652.1,2161.5 L653.6,2161.5 L655.1,2161.5 L656.6,2161.5 L658.1,2161.5 L659.6,2161.5 L661.1,2161.5 L662.6,2161.5 L664.1,2161.5 L665.6,2161.5 L667.0,2161.5 L668.5,2161.5 L670.0,2161.5 L671.5,2161.5 L673.0,2161.5 L674.5,2161.5 L676.0,2161.5 L677.5,2161.5 L679.0,2161.5 L680.5,2161.5 L682.0,2161.5 L683.5,2161.5 L685.0,2161.5 L686.5,2161.5 L688.0,2161.5 L689.5,2161.5 L691.0,2161.5 L692.5,2161.5 L694.0,2161.5 L695.5,2161.5 L697.0,2161.5 L698.5,2161.5 L700.0,2161.5 L701.4,2161.5 L702.9,2161.5 L704.3,2161.5 L705.8,2161.5 L707.2,2161.5 L708.7,2161.5 L710.1,2161.5 L711.6,2161.5 L713.0,2161.5 L714.5,2161.5 L715.9,2161.5 L717.4,2161.5 L718.8,2161.5 L719.4,2161.8 L720.1,2162.6 L720.8,2163.8 L721.4,2165.4 L722.1,2167.4 L722.7,2169.6 L722.8,2170.1 L723.0,2170.8 L723.1,2171.7 L723.2,2172.6 L723.3,2173.7 L723.5,2174.9 L723.6,2176.3 L723.7,2177.7 L723.9,2179.2 L724.0,2180.7 L724.1,2182.4 L724.2,2184.1 L724.4,2185.8 L724.5,2187.6 L724.6,2189.4 L724.7,2191.2 L724.9,2193.1 L725.0,2194.9 L725.1,2196.7 L725.3,2198.5 L725.4,2200.3 L725.5,2202.0 L725.6,2203.7 L725.8,2205.3 L725.9,2206.9 L726.0,2208.4 L726.1,2209.8 L726.3,2211.3 L726.4,2212.8 L726.5,2214.3 L726.6,2215.8 L726.8,2217.4 L726.9,2218.9 L727.0,2220.4 L727.1,2221.9 L727.3,2223.4 L727.4,2225.0 L727.5,2226.5 L727.6,2228.0 L727.7,2229.5 L727.9,2231.0 L728.0,2232.5 L728.1,2234.0 L728.2,2235.5 L728.4,2237.0 L728.5,2238.5 L728.6,2240.0 L728.7,2241.4 L728.9,2242.9 L729.0,2244.3 L729.1,2245.7 L729.2,2247.3 L729.4,2248.8 L729.5,2250.4 L729.6,2251.9 L729.8,2253.4 L729.9,2255.0 L730.1,2256.5 L730.2,2258.0 L730.3,2259.5 L730.5,2261.0 L730.6,2262.5 L730.8,2264.0 L730.9,2265.4 L731.0,2266.9 L731.2,2268.4 L731.3,2269.8 L731.4,2271.3 L731.6,2272.7 L731.7,2274.2 L731.9,2275.6 L732.0,2277.1 L732.1,2278.5 L732.3,2280.0 L732.4,2281.4 L732.5,2282.9 L732.7,2284.5 L732.8,2286.0 L733.0,2287.6 L733.1,2289.1 L733.3,2290.7 L733.4,2292.2 L733.6,2293.8 L733.7,2295.3 L733.9,2296.8 L734.0,2298.4 L734.1,2299.9 L734.3,2301.4 L734.4,2302.8 L734.6,2304.3 L734.7,2305.7 L734.9,2307.2 L735.0,2308.5 L735.2,2309.9 L735.3,2311.2 L735.5,2312.5 L735.6,2313.8 L735.8,2315.5 L736.0,2317.2 L736.2,2318.9 L736.4,2320.5 L736.6,2322.2 L736.8,2323.7 L737.0,2325.3 L737.2,2326.8 L737.4,2328.4 L737.6,2329.9 L737.8,2331.3 L738.0,2332.8 L738.3,2334.2 L738.5,2335.7 L738.7,2337.1 L738.9,2338.5 L739.1,2339.9 L739.3,2341.3 L739.5,2342.6 L739.7,2344.0 L739.9,2345.3 L740.1,2346.7 L740.3,2348.1 L740.5,2349.4 L740.7,2351.0 L741.0,2352.6 L741.2,2354.1 L741.5,2355.7 L741.7,2357.2 L741.9,2358.8 L742.2,2360.3 L742.4,2361.8 L742.7,2363.3 L742.9,2364.8 L743.1,2366.3 L743.4,2367.7 L743.6,2369.1 L743.9,2370.5 L744.1,2371.9 L744.3,2373.3 L744.6,2374.6 L744.8,2375.9 L745.1,2377.2 L745.3,2378.5 L745.6,2380.2 L745.9,2381.8 L746.3,2383.5 L746.6,2385.1 L746.9,2386.7 L747.2,2388.2 L747.6,2389.8 L747.9,2391.3 L748.2,2392.8 L748.5,2394.3 L748.9,2395.7 L749.2,2397.1 L749.5,2398.6 L749.8,2399.9 L750.2,2401.3 L750.5,2402.6 L750.8,2403.9 L751.1,2405.2 L751.5,2406.5 L751.8,2407.7 L752.2,2409.3 L752.7,2410.9 L753.1,2412.4 L753.5,2414.0 L753.9,2415.5 L754.4,2416.9 L754.8,2418.4 L755.2,2419.8 L755.6,2421.3 L756.1,2422.6 L756.5,2424.0 L756.9,2425.3 L757.3,2426.6 L757.8,2427.8 L758.2,2429.1 L758.6,2430.3 L759.0,2431.4 L759.5,2432.5 L759.9,2433.6 L760.5,2435.2 L761.2,2436.7 L761.8,2438.2 L762.5,2439.7 L763.1,2441.1 L763.8,2442.4 L764.4,2443.7 L765.1,2445.0 L765.7,2446.3 L766.4,2447.5 L767.0,2448.7 L767.7,2449.8 L768.3,2450.9 L769.0,2452.0 L769.6,2453.0 L770.5,2454.4 L771.4,2455.8 L772.4,2457.1 L773.3,2458.4 L774.2,2459.7 L775.1,2460.9 L776.0,2462.1 L777.0,2463.2 L777.9,2464.3 L778.8,2465.4 L779.7,2466.5 L780.7,2467.5 L781.6,2468.5 L782.5,2469.5 L783.6,2470.6 L784.7,2471.7 L785.8,2472.8 L786.8,2473.8 L787.9,2474.8 L789.0,2475.8 L790.1,2476.8 L791.2,2477.7 L792.3,2478.6 L793.4,2479.6 L794.5,2480.5 L795.5,2481.3 L796.6,2482.2 L797.7,2483.1 L798.8,2484.0 L800.0,2484.9 L801.1,2485.9 L802.3,2486.8 L803.5,2487.7 L804.6,2488.6 L805.8,2489.4 L807.0,2490.3 L808.1,2491.2 L809.3,2492.0 L810.5,2492.9 L811.6,2493.7 L812.8,2494.6 L814.0,2495.4 L815.1,2496.2 L816.3,2497.1 L817.5,2497.9 L818.6,2498.8 L819.8,2499.6 L821.0,2500.5 L822.2,2501.3 L823.3,2502.2 L824.5,2503.0 L825.7,2503.9 L826.9,2504.8 L828.0,2505.6 L829.2,2506.5 L830.4,2507.3 L831.6,2508.2 L832.8,2509.0 L833.9,2509.9 L835.1,2510.7 L836.3,2511.5 L837.5,2512.4 L838.6,2513.2 L839.8,2514.0 L841.0,2514.8 L842.2,2515.6 L843.3,2516.4 L844.5,2517.2 L845.7,2518.0 L847.0,2518.8 L848.2,2519.6 L849.5,2520.5 L850.8,2521.3 L852.0,2522.1 L853.3,2522.8 L854.6,2523.6 L855.9,2524.4 L857.1,2525.2 L858.4,2525.9 L859.7,2526.7 L860.9,2527.5 L862.2,2528.2 L863.5,2529.0 L864.7,2529.7 L866.0,2530.5 L867.3,2531.2 L868.6,2532.0 L869.8,2532.8 L871.1,2533.5 L872.4,2534.3 L873.6,2535.0 L874.9,2535.8 L876.1,2536.5 L877.4,2537.3 L878.6,2538.1 L879.8,2538.8 L881.1,2539.6 L882.3,2540.3 L883.5,2541.1 L884.8,2541.9 L886.0,2542.6 L887.2,2543.4 L888.5,2544.1 L889.7,2544.9 L890.9,2545.6 L892.2,2546.4 L893.4,2547.1 L894.6,2547.8 L895.9,2548.6 L897.1,2549.3 L898.3,2550.0 L899.6,2550.7 L900.8,2551.4 L902.1,2552.1 L903.4,2552.8 L904.7,2553.6 L906.0,2554.3 L907.3,2555.0 L908.6,2555.7 L909.9,2556.4 L911.2,2557.3 L912.5,2558.0 L913.8,2558.7 L915.0,2560.0 L916.3,2559.8 L917.6,2560.5 L918.9,2561.0 L920.2,2561.6 L921.5,2562.3 L922.8,2563.1 L924.1,2563.8 L925.4,2564.4 L926.7,2565.0 L928.1,2565.6 L929.4,2566.3 L930.8,2566.9 L932.2,2567.6 L933.5,2567.8 L934.9,2568.4 L936.2,2569.0 L937.6,2569.6 L939.0,2570.2 L940.3,2570.8 L941.7,2572.0 L943.1,2572.6 L944.4,2573.2 L945.8,2573.8 L947.1,2574.5 L948.5,2575.1 L949.9,2575.6 L951.2,2576.2 L952.6,2576.1 L954.0,2576.8 L955.3,2577.4 L956.7,2577.5 L958.1,2578.6 L959.4,2579.1 L960.8,2579.2 L962.1,2579.7 L963.5,2580.2 L964.9,2580.7 L966.2,2581.0 L967.6,2581.8 L969.0,2582.3 L970.3,2582.8 L971.7,2583.2 L973.0,2583.7 L974.4,2584.1 L975.8,2585.1 L977.1,2585.0 L978.5,2585.6 L979.9,2585.8 L981.4,2586.3 L982.8,2586.7 L984.3,2587.2 L985.7,2587.8 L987.2,2588.3 L988.6,2588.7 L990.1,2588.7 L991.5,2589.1 L992.9,2589.5 L994.4,2589.9 L995.8,2590.1 L997.3,2590.9 L998.7,2591.2 L1000.2,2591.6 L1001.6,2592.3 L1003.1,2592.6 L1004.5,2592.9 L1005.9,2592.6 L1007.4,2592.8 L1008.8,2593.1 L1010.3,2593.3 L1011.7,2593.3 L1013.1,2593.6 L1014.6,2593.8 L1016.0,2594.0 L1017.5,2594.2 L1018.9,2594.4 L1020.3,2594.6 L1021.8,2594.8 L1023.2,2595.8 L1024.6,2596.0 L1026.1,2596.2 L1027.5,2596.0 L1029.0,2596.2 L1030.4,2596.4 L1031.8,2596.6 L1033.3,2596.4 L1034.7,2596.7 L1036.2,2597.7 L1037.6,2597.9 L1039.0,2597.7 L1040.5,2598.0 L1041.9,2597.6 L1043.3,2598.6 L1044.8,2598.8 L1046.2,2598.7 L1047.7,2599.1 L1049.1,2599.3 L1050.5,2599.8 L1052.0,2600.0 L1053.4,2600.3 L1054.9,2600.5 L1056.3,2601.0 L1057.7,2601.3 L1059.1,2601.6 L1060.5,2601.9 L1061.9,2602.0 L1063.3,2601.9 L1064.7,2602.3 L1066.1,2602.6 L1067.5,2602.7 L1068.9,2603.7 L1070.4,2604.0 L1071.8,2604.4 L1073.2,2604.7 L1074.6,2604.8 L1076.0,2605.4 L1077.4,2605.7 L1078.8,2606.0 L1080.2,2606.2 L1081.6,2606.5 L1083.0,2606.7 L1084.4,2606.9 L1085.9,2607.1 L1087.3,2607.3 L1088.7,2607.5 L1090.1,2607.5 L1091.6,2607.7 L1093.0,2607.5 L1094.4,2607.6 L1095.8,2607.8 L1097.3,2608.0 L1098.7,2608.9 L1100.1,2609.1 L1101.5,2609.2 L1103.0,2609.4 L1104.4,2609.5 L1105.8,2609.7 L1107.2,2609.2 L1108.7,2609.6 L1110.1,2609.7 L1111.5,2609.6 L1112.9,2609.8 L1114.4,2609.9 L1115.8,2610.1 L1117.3,2610.7 L1118.7,2610.2 L1120.2,2611.0 L1121.7,2611.1 L1123.2,2611.3 L1124.6,2611.5 L1126.1,2611.2 L1127.6,2611.6 L1129.1,2611.5 L1130.5,2611.7 L1132.0,2611.8 L1133.5,2612.6 L1134.9,2612.7 L1136.4,2612.9 L1137.9,2612.6 L1139.4,2612.8 L1140.8,2612.9 L1142.3,2613.1 L1143.8,2612.8 L1145.3,2612.9 L1146.7,2613.1 L1148.2,2613.6 L1149.7,2613.9 L1151.1,2614.1 L1152.6,2614.2 L1154.1,2614.4 L1155.6,2613.8 L1157.0,2614.5 L1158.5,2614.7 L1160.0,2614.8 L1161.5,2615.0 L1162.9,2616.1 L1164.4,2616.3 L1165.9,2613.9 L1167.3,2616.0 L1168.8,2616.2 L1170.3,2616.3 L1171.8,2616.4 L1173.2,2617.0 L1174.7,2617.1 L1176.2,2617.1 L1177.7,2617.2 L1179.1,2615.7 L1180.6,2615.7 L1182.1,2617.2 L1183.6,2617.2 L1185.1,2616.7 L1186.6,2615.2 L1188.1,2615.2 L1189.6,2616.2 L1191.1,2616.2 L1192.6,2616.2 L1194.0,2615.7 L1195.5,2617.2 L1197.0,2616.2 L1198.5,2616.2 L1200.0,2616.2 L1201.5,2617.7 L1203.0,2616.2 L1204.5,2616.2 L1206.0,2616.2 L1207.5,2615.2 L1209.0,2615.2 L1210.5,2615.2 L1212.0,2616.2 L1213.5,2617.2 L1215.0,2617.2 L1216.5,2615.7 L1217.9,2615.7 L1219.4,2615.7 L1220.9,2615.7 L1222.4,2616.7 L1223.9,2616.7 L1225.4,2616.7 L1226.9,2616.7 L1228.4,2616.7 L1229.9,2616.7 L1231.4,2616.7 L1232.9,2616.7 L1234.4,2616.7 L1235.9,2617.2 L1237.4,2617.2 L1238.9,2617.2 L1240.4,2615.2 L1241.8,2617.2 L1243.3,2615.7 L1244.8,2617.2 L1246.3,2615.2 L1247.8,2615.2 L1249.3,2615.2 L1250.8,2615.2 L1252.3,2615.7 L1253.8,2615.7 L1255.3,2616.2 L1256.8,2616.2 L1258.3,2616.2 L1259.8,2616.2 L1261.3,2617.2 L1262.8,2617.2 L1264.3,2616.2 L1265.7,2616.2 L1267.2,2616.2 L1268.7,2616.2 L1270.2,2616.2 L1271.7,2616.2 L1273.2,2616.2 L1274.7,2616.2 L1276.2,2616.2 L1277.7,2615.2 L1279.1,2615.2 L1280.6,2616.1 L1282.0,2615.0 L1283.5,2614.8 L1284.9,2614.6 L1286.4,2614.4 L1287.8,2614.1 L1289.3,2615.3 L1290.7,2615.0 L1291.9,2614.6 L1293.1,2614.0 L1294.3,2613.2 L1295.6,2612.3 L1296.8,2609.4 L1298.0,2610.0 L1299.2,2609.3 L1300.4,2608.7 L1301.8,2609.3 L1303.2,2608.9 L1304.6,2608.1 L1305.9,2606.3 L1307.3,2606.0 L1308.7,2606.1 L1310.1,2606.1 L1311.1,2605.4 L1312.1,2604.4 L1313.0,2603.9 L1314.0,2602.5 L1315.0,2602.2 L1316.0,2602.7 L1316.9,2604.9 L1317.9,2606.3 L1318.8,2607.5 L1319.8,2607.1 L1321.2,2607.2 L1322.6,2607.3 L1324.1,2606.4 L1325.5,2606.5 L1326.9,2606.6 L1328.3,2606.6 L1329.7,2606.6 L1331.2,2606.6 L1332.6,2606.7 L1334.0,2606.7 L1335.4,2606.7 L1336.8,2606.8 L1338.2,2607.8 L1339.7,2607.9 L1341.1,2608.0 L1342.5,2608.1 L1343.9,2608.4 L1345.3,2609.0 L1346.7,2609.2 L1348.0,2610.5 L1349.4,2611.2 L1350.8,2611.7 L1352.2,2611.9 L1353.7,2611.9 L1355.1,2611.9 L1356.5,2610.9 L1358.0,2610.9" fill="none" stroke="#ff0000" stroke-width="6.6" stroke-linejoin="round" stroke-linecap="butt"/>
<rect x="345.5" y="2094.5" width="1013.5" height="742.5" fill="none" stroke="#222" stroke-width="2.4"/>
<path d="M740.5,2193.3H876.5" stroke="#303030" stroke-width="2.4" stroke-dasharray="9.3 9.8" fill="none"/>
<path d="M737.2,2267.8H877.5" stroke="#ff0000" stroke-width="6.6" fill="none"/>
<text font-size="57" fill="#000" stroke="#fff" stroke-width="0.6"><tspan id="t0" x="224.5" y="125.4" textLength="97.9" lengthAdjust="spacingAndGlyphs">100</tspan></text>
<text font-size="57" fill="#000" stroke="#fff" stroke-width="0.6"><tspan id="t1" x="250.8" y="255.4" textLength="67.0" lengthAdjust="spacingAndGlyphs">80</tspan></text>
<text font-size="57" fill="#000" stroke="#fff" stroke-width="0.6"><tspan id="t2" x="251.0" y="392.2" textLength="66.9" lengthAdjust="spacingAndGlyphs">60</tspan></text>
<text font-size="57" fill="#000" stroke="#fff" stroke-width="0.6"><tspan id="t3" x="249.2" y="526.6" textLength="67.4" lengthAdjust="spacingAndGlyphs">40</tspan></text>
<text font-size="57" fill="#000" stroke="#fff" stroke-width="0.6"><tspan id="t4" x="249.4" y="660.8" textLength="66.7" lengthAdjust="spacingAndGlyphs">20</tspan></text>
<text font-size="57" fill="#000" stroke="#fff" stroke-width="0.6"><tspan id="t5" x="276.1" y="795.8" textLength="37.0" lengthAdjust="spacingAndGlyphs">0</tspan></text>
<text font-size="57" fill="#000" stroke="#fff" stroke-width="0.6"><tspan id="t6" x="381.0" y="917.0" textLength="100.0" lengthAdjust="spacingAndGlyphs">400</tspan></text>
<text font-size="57" fill="#000" stroke="#fff" stroke-width="0.6"><tspan id="t7" x="612.0" y="917.0" textLength="100.4" lengthAdjust="spacingAndGlyphs">800</tspan></text>
<text font-size="57" fill="#000" stroke="#fff" stroke-width="0.6"><tspan id="t8" x="827.5" y="918.8" textLength="133.2" lengthAdjust="spacingAndGlyphs">1200</tspan></text>
<text font-size="57" fill="#000" stroke="#fff" stroke-width="0.6"><tspan id="t9" x="1058.9" y="917.2" textLength="133.4" lengthAdjust="spacingAndGlyphs">1600</tspan></text>
<text font-size="57" fill="#000" stroke="#fff" stroke-width="0.6"><tspan id="t10" x="1291.4" y="917.2" textLength="131.7" lengthAdjust="spacingAndGlyphs">2000</tspan></text>
<text font-size="56" fill="#000" stroke="#fff" stroke-width="0.6"><tspan id="t11" x="671.2" y="983.5" textLength="309.2" lengthAdjust="spacingAndGlyphs">Wavelength</tspan> <tspan id="t12" x="995.3" y="983.5" textLength="124.2" lengthAdjust="spacingAndGlyphs">(nm)</tspan></text>
<text font-size="56" fill="#000" stroke="#fff" stroke-width="0.6"><tspan id="t13" x="924.7" y="221.0" textLength="117.1" lengthAdjust="spacingAndGlyphs">bare</tspan> <tspan id="t14" x="1056.4" y="221.0" textLength="134.2" lengthAdjust="spacingAndGlyphs">GaAs</tspan></text>
<text font-size="56" fill="#0000ff" stroke="#fff" stroke-width="0.6"><tspan id="t15" x="924.8" y="298.0" textLength="135.6" lengthAdjust="spacingAndGlyphs">black</tspan> <tspan id="t16" x="1074.8" y="298.0" textLength="133.6" lengthAdjust="spacingAndGlyphs">GaAs</tspan> <tspan id="t17" x="1221.9" y="298.0" textLength="95.0" lengthAdjust="spacingAndGlyphs">NTs</tspan></text>
<text font-size="74" fill="#000" stroke="#fff" stroke-width="0.6"><tspan id="t18" x="19.7" y="85.0" textLength="92.6" lengthAdjust="spacingAndGlyphs">(a)</tspan></text>
<text transform="translate(193.4,0) rotate(-90)" font-size="56" fill="#000" stroke="#fff" stroke-width="0.6"><tspan id="t19" x="-851.1" y="0" textLength="374.0" lengthAdjust="spacingAndGlyphs">Hemispherical</tspan> <tspan id="t20" x="-462.2" y="0" textLength="291.1" lengthAdjust="spacingAndGlyphs">reflectance</tspan> <tspan id="t21" x="-155.1" y="0" textLength="83.2" lengthAdjust="spacingAndGlyphs">(%)</tspan></text>
<text font-size="57" fill="#000" stroke="#fff" stroke-width="0.6"><tspan id="t22" x="229.1" y="1140.6" textLength="98.6" lengthAdjust="spacingAndGlyphs">100</tspan></text>
<text font-size="57" fill="#000" stroke="#fff" stroke-width="0.6"><tspan id="t23" x="254.3" y="1270.0" textLength="68.1" lengthAdjust="spacingAndGlyphs">80</tspan></text>
<text font-size="57" fill="#000" stroke="#fff" stroke-width="0.6"><tspan id="t24" x="255.6" y="1406.6" textLength="66.9" lengthAdjust="spacingAndGlyphs">60</tspan></text>
<text font-size="57" fill="#000" stroke="#fff" stroke-width="0.6"><tspan id="t25" x="253.0" y="1542.2" textLength="68.2" lengthAdjust="spacingAndGlyphs">40</tspan></text>
<text font-size="57" fill="#000" stroke="#fff" stroke-width="0.6"><tspan id="t26" x="253.1" y="1677.4" textLength="68.1" lengthAdjust="spacingAndGlyphs">20</tspan></text>
<text font-size="57" fill="#000" stroke="#fff" stroke-width="0.6"><tspan id="t27" x="281.0" y="1811.0" textLength="34.6" lengthAdjust="spacingAndGlyphs">0</tspan></text>
<text font-size="57" fill="#000" stroke="#fff" stroke-width="0.6"><tspan id="t28" x="389.2" y="1930.6" textLength="100.8" lengthAdjust="spacingAndGlyphs">400</tspan></text>
<text font-size="57" fill="#000" stroke="#fff" stroke-width="0.6"><tspan id="t29" x="616.8" y="1930.6" textLength="101.0" lengthAdjust="spacingAndGlyphs">800</tspan></text>
<text font-size="57" fill="#000" stroke="#fff" stroke-width="0.6"><tspan id="t30" x="833.5" y="1931.2" textLength="129.5" lengthAdjust="spacingAndGlyphs">1200</tspan></text>
<text font-size="57" fill="#000" stroke="#fff" stroke-width="0.6"><tspan id="t31" x="1063.1" y="1931.2" textLength="128.5" lengthAdjust="spacingAndGlyphs">1600</tspan></text>
<text font-size="57" fill="#000" stroke="#fff" stroke-width="0.6"><tspan id="t32" x="1290.8" y="1931.2" textLength="129.4" lengthAdjust="spacingAndGlyphs">2000</tspan></text>
<text font-size="56" fill="#000" stroke="#fff" stroke-width="0.6"><tspan id="t33" x="677.4" y="2002.2" textLength="308.2" lengthAdjust="spacingAndGlyphs">Wavelength</tspan> <tspan id="t34" x="1000.5" y="2002.2" textLength="124.2" lengthAdjust="spacingAndGlyphs">(nm)</tspan></text>
<text font-size="56" fill="#000" stroke="#fff" stroke-width="0.6"><tspan id="t35" x="884.7" y="1225.3" textLength="117.1" lengthAdjust="spacingAndGlyphs">bare</tspan> <tspan id="t36" x="1016.4" y="1225.3" textLength="134.2" lengthAdjust="spacingAndGlyphs">GaAs</tspan></text>
<text font-size="56" fill="#0a9a0a" stroke="#fff" stroke-width="0.6"><tspan id="t37" x="884.8" y="1302.2" textLength="135.6" lengthAdjust="spacingAndGlyphs">black</tspan> <tspan id="t38" x="1034.8" y="1302.2" textLength="133.6" lengthAdjust="spacingAndGlyphs">GaAs</tspan> <tspan id="t39" x="1181.9" y="1302.2" textLength="95.0" lengthAdjust="spacingAndGlyphs">NTs</tspan></text>
<text font-size="74" fill="#000" stroke="#fff" stroke-width="0.6"><tspan id="t40" x="16.7" y="1079.4" textLength="96.5" lengthAdjust="spacingAndGlyphs">(b)</tspan></text>
<text transform="translate(197.6,0) rotate(-90)" font-size="56" fill="#000" stroke="#fff" stroke-width="0.6"><tspan id="t41" x="-1889.7" y="0" textLength="372.7" lengthAdjust="spacingAndGlyphs">Hemispherical</tspan> <tspan id="t42" x="-1503.0" y="0" textLength="366.8" lengthAdjust="spacingAndGlyphs">transmittance</tspan> <tspan id="t43" x="-1122.5" y="0" textLength="84.3" lengthAdjust="spacingAndGlyphs">(%)</tspan></text>
<text font-size="57" fill="#000" stroke="#fff" stroke-width="0.6"><tspan id="t44" x="225.1" y="2181.8" textLength="98.0" lengthAdjust="spacingAndGlyphs">100</tspan></text>
<text font-size="57" fill="#000" stroke="#fff" stroke-width="0.6"><tspan id="t45" x="249.4" y="2320.6" textLength="67.5" lengthAdjust="spacingAndGlyphs">80</tspan></text>
<text font-size="57" fill="#000" stroke="#fff" stroke-width="0.6"><tspan id="t46" x="251.3" y="2457.0" textLength="66.9" lengthAdjust="spacingAndGlyphs">60</tspan></text>
<text font-size="57" fill="#000" stroke="#fff" stroke-width="0.6"><tspan id="t47" x="252.6" y="2596.0" textLength="65.5" lengthAdjust="spacingAndGlyphs">40</tspan></text>
<text font-size="57" fill="#000" stroke="#fff" stroke-width="0.6"><tspan id="t48" x="252.4" y="2731.2" textLength="65.8" lengthAdjust="spacingAndGlyphs">20</tspan></text>
<text font-size="57" fill="#000" stroke="#fff" stroke-width="0.6"><tspan id="t49" x="279.1" y="2854.8" textLength="35.7" lengthAdjust="spacingAndGlyphs">0</tspan></text>
<text font-size="57" fill="#000" stroke="#fff" stroke-width="0.6"><tspan id="t50" x="391.0" y="2919.2" textLength="100.0" lengthAdjust="spacingAndGlyphs">400</tspan></text>
<text font-size="57" fill="#000" stroke="#fff" stroke-width="0.6"><tspan id="t51" x="619.6" y="2919.2" textLength="101.5" lengthAdjust="spacingAndGlyphs">800</tspan></text>
<text font-size="57" fill="#000" stroke="#fff" stroke-width="0.6"><tspan id="t52" x="834.5" y="2916.6" textLength="130.5" lengthAdjust="spacingAndGlyphs">1200</tspan></text>
<text font-size="57" fill="#000" stroke="#fff" stroke-width="0.6"><tspan id="t53" x="1064.2" y="2919.2" textLength="127.9" lengthAdjust="spacingAndGlyphs">1600</tspan></text>
<text font-size="57" fill="#000" stroke="#fff" stroke-width="0.6"><tspan id="t54" x="1291.8" y="2919.2" textLength="130.2" lengthAdjust="spacingAndGlyphs">2000</tspan></text>
<text font-size="56" fill="#000" stroke="#fff" stroke-width="0.6"><tspan id="t55" x="675.6" y="2984.3" textLength="309.2" lengthAdjust="spacingAndGlyphs">Wavelength</tspan> <tspan id="t56" x="998.7" y="2984.3" textLength="124.2" lengthAdjust="spacingAndGlyphs">(nm)</tspan></text>
<text font-size="56" fill="#000" stroke="#fff" stroke-width="0.6"><tspan id="t57" x="910.1" y="2214.5" textLength="117.1" lengthAdjust="spacingAndGlyphs">bare</tspan> <tspan id="t58" x="1042.8" y="2214.5" textLength="134.2" lengthAdjust="spacingAndGlyphs">GaAs</tspan></text>
<text font-size="56" fill="#ff0000" stroke="#fff" stroke-width="0.6"><tspan id="t59" x="910.2" y="2291.5" textLength="135.6" lengthAdjust="spacingAndGlyphs">black</tspan> <tspan id="t60" x="1060.2" y="2291.5" textLength="134.6" lengthAdjust="spacingAndGlyphs">GaAs</tspan> <tspan id="t61" x="1207.3" y="2291.5" textLength="95.0" lengthAdjust="spacingAndGlyphs">NTs</tspan></text>
<text font-size="74" fill="#000" stroke="#fff" stroke-width="0.6"><tspan id="t62" x="26.5" y="2075.7" textLength="86.7" lengthAdjust="spacingAndGlyphs">(c)</tspan></text>
<text transform="translate(204.4,0) rotate(-90)" font-size="56" fill="#000" stroke="#fff" stroke-width="0.6"><tspan id="t63" x="-2881.1" y="0" textLength="373.9" lengthAdjust="spacingAndGlyphs">Hemispherical</tspan> <tspan id="t64" x="-2491.2" y="0" textLength="323.8" lengthAdjust="spacingAndGlyphs">absorptance</tspan> <tspan id="t65" x="-2151.9" y="0" textLength="83.7" lengthAdjust="spacingAndGlyphs">(%)</tspan></text>
</g></svg></body></html>
